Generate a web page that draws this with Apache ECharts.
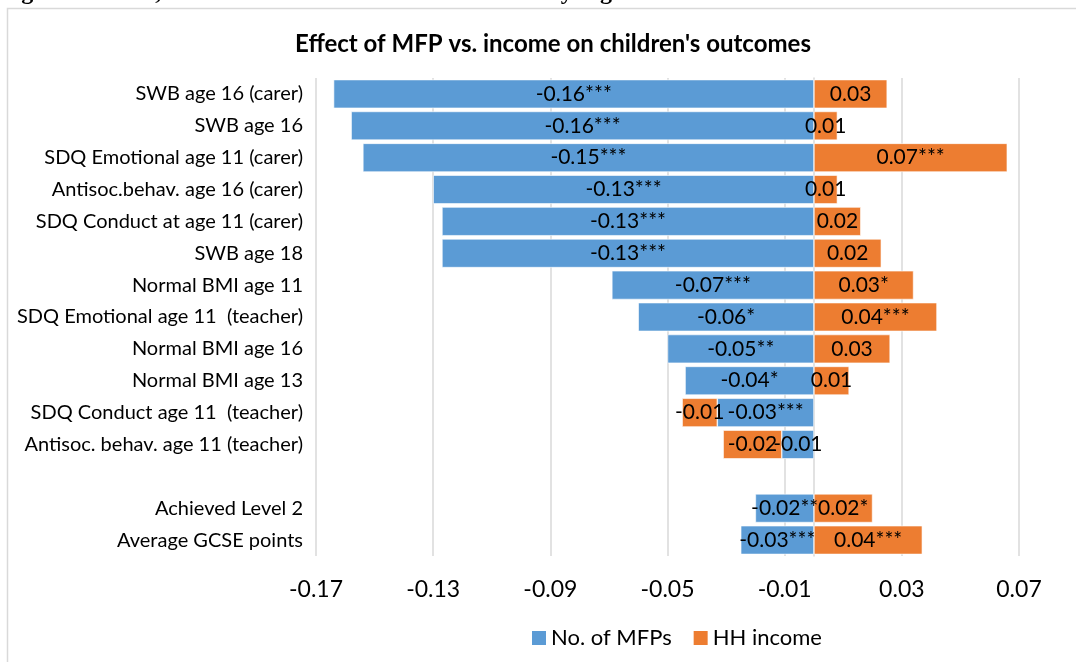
<!DOCTYPE html>
<html>
<head>
<meta charset="utf-8">
<script src="https://cdn.jsdelivr.net/npm/echarts@6/dist/echarts.min.js"></script>
<style>
html,body{margin:0;padding:0;background:#fff;}
#chart{width:1076px;height:662px;}
</style>
</head>
<body>
<div id="chart"></div>
<script>
const categories = ['SWB age 16 (carer)','SWB age 16','SDQ Emotional age 11 (carer)','Antisoc.behav. age 16 (carer)','SDQ Conduct at age 11 (carer)','SWB age 18','Normal BMI age 11','SDQ Emotional age 11  (teacher)','Normal BMI age 16','Normal BMI age 13','SDQ Conduct age 11  (teacher)','Antisoc. behav. age 11 (teacher)','','Achieved Level 2','Average GCSE points'];
const mfpValues = [-0.164,-0.158,-0.154,-0.130,-0.127,-0.127,-0.069,-0.060,-0.050,-0.044,-0.033,-0.011,null,-0.020,-0.025];
const incomeValues = [0.025,0.008,0.066,0.008,0.016,0.023,0.034,0.042,0.026,0.012,-0.012,-0.020,null,0.020,0.037];
const mfpLabels = ['-0.16***','-0.16***','-0.15***','-0.13***','-0.13***','-0.13***','-0.07***','-0.06*','-0.05**','-0.04*','-0.03***','-0.01','','-0.02**','-0.03***'];
const incomeLabels = ['0.03','0.01','0.07***','0.01','0.02','0.02','0.03*','0.04***','0.03','0.01','-0.01','-0.02','','0.02*','0.04***'];
const xTicks = {min:-0.17, max:0.07, interval:0.04};

const FONT = 'Lato';
const chart = echarts.init(document.getElementById('chart'));
chart.setOption({
  animation:false,
  backgroundColor:'#fff',
  textStyle:{fontFamily:FONT},
  title:{
    text:"Effect of MFP vs. income on children's outcomes",
    left:548, top:27, textAlign:'center',
    textStyle:{fontFamily:FONT,fontWeight:'bold',fontSize:24,color:'#000'}
  },
  graphic:[
    {type:'rect',shape:{x:7.5,y:8.5,width:1200,height:800},style:{fill:'none',stroke:'#d9d9d9',lineWidth:1.5}},
    {type:'text',left:0,top:-19,style:{text:'Figure 2 - MFP, income and Child Outcomes: Summary Figure',font:'bold 24px "Liberation Serif"',fill:'#000'}}
  ],
  legend:{
    left:527, top:622, itemWidth:14, itemHeight:14, itemGap:22,
    icon:'rect',
    itemStyle:{borderWidth:0},
    textStyle:{fontFamily:FONT,fontSize:22,color:'#000'},
    data:['No. of MFPs','HH income']
  },
  grid:{left:316,right:57,top:78,bottom:106,containLabel:false},
  xAxis:{
    type:'value', min:xTicks.min, max:xTicks.max, interval:xTicks.interval,
    axisLine:{show:false}, axisTick:{show:false},
    splitLine:{show:true,lineStyle:{color:'#d9d9d9',width:1.5}},
    axisLabel:{fontFamily:FONT,fontSize:23,color:'#000',margin:22,formatter:v=>v.toFixed(2)}
  },
  yAxis:{
    type:'category', data:categories, inverse:true,
    axisLine:{show:true,lineStyle:{color:'#d9d9d9',width:1.5}},
    axisTick:{show:false},
    axisLabel:{fontFamily:FONT,fontSize:20,color:'#000',margin:13}
  },
  series:[
    {name:'No. of MFPs',type:'bar',stack:'a',data:mfpValues,barWidth:'90%',
     itemStyle:{color:'#5B9BD5',borderColor:'#fff',borderWidth:0.6},
     label:{show:true,position:'inside',fontFamily:FONT,fontSize:21,color:'#000',
            formatter:p=>mfpLabels[p.dataIndex]}},
    {name:'HH income',type:'bar',stack:'a',data:incomeValues,barWidth:'90%',
     itemStyle:{color:'#ED7D31',borderColor:'#fff',borderWidth:0.6},
     label:{show:true,position:'inside',fontFamily:FONT,fontSize:21,color:'#000',
            formatter:p=>incomeLabels[p.dataIndex]}}
  ]
});
</script>
</body>
</html>
